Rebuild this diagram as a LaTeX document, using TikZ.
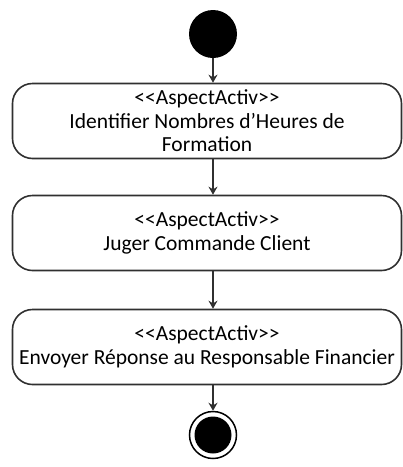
\documentclass[tikz,border=0pt]{standalone}
\usepackage{fontspec}
\setmainfont{Carlito}
\usetikzlibrary{arrows.meta, calc, positioning}
\definecolor{Line}{HTML}{303030}

\begin{document}
\begin{tikzpicture}[>=Stealth, x=1pt, y=-1pt,
  activ/.style={draw=Line, line width=1.6pt, rounded corners=20pt,
    minimum width=389pt, minimum height=75pt, align=center,
    font=\fontsize{21.5}{23.5}\selectfont, inner sep=0pt},
  flow/.style={->, draw=Line, line width=2pt, >={Stealth[length=8pt, width=9pt]}}]
  \useasboundingbox (0,0) rectangle (403,467);
  % start and end
  \node[circle, fill=black, minimum size=48pt, inner sep=0pt] (debut) at (213,34) {};
  \node[circle, draw=black, line width=1.5pt, minimum size=47pt, inner sep=0pt] (fin) at (213,435) {};
  \node[circle, fill=black, minimum size=37pt, inner sep=0pt] (finDot) at (fin) {};
  % activities
  \node[activ] (identifier) at (207,121) {{<}{<}AspectActiv{>}{>}\\Identifier Nombres d’Heures de\\Formation};
  \node[activ] (juger) at (207,233) {{<}{<}AspectActiv{>}{>}\\Juger Commande Client};
  \node[activ] (envoyer) at (207,347) {{<}{<}AspectActiv{>}{>}\\Envoyer Réponse au Responsable Financier};
  % flows
  \draw[flow] (debut) -- (debut |- identifier.north);
  \draw[flow] (debut |- identifier.south) -- (debut |- juger.north);
  \draw[flow] (debut |- juger.south) -- (debut |- envoyer.north);
  \draw[flow] (debut |- envoyer.south) -- (fin);
\end{tikzpicture}
\end{document}
